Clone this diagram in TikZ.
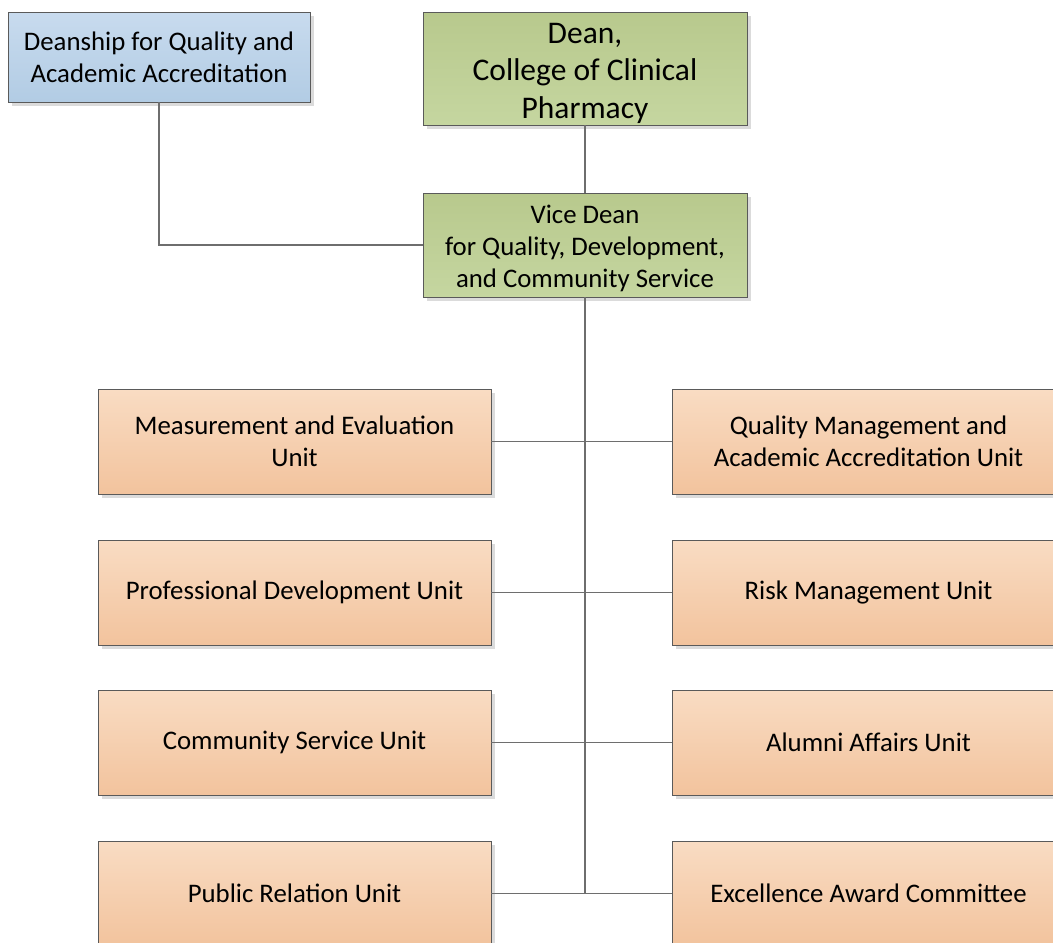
\documentclass[tikz,border=0pt]{standalone}
\usepackage{fontspec}
\setmainfont{Carlito}
\usetikzlibrary{shadows}
\definecolor{ortop}{HTML}{F9DCC3}
\definecolor{orbot}{HTML}{F2C39D}
\definecolor{grtop}{HTML}{B8C98D}
\definecolor{grbot}{HTML}{C5D6A0}
\definecolor{bltop}{HTML}{C8DBEE}
\definecolor{blbot}{HTML}{B2CCE4}
\definecolor{edge}{HTML}{5A5A5A}
\definecolor{conn}{HTML}{6E6E6E}
\tikzset{
  box/.style={draw=edge, line width=0.9pt, align=center, inner sep=0pt,
    font=\fontsize{26.8}{32}\selectfont,
    drop shadow={shadow xshift=4pt, shadow yshift=-4pt, fill=black!14, opacity=1}},
  unitbox/.style={box, minimum width=393pt, minimum height=105pt, top color=ortop, bottom color=orbot},
  greenbox/.style={box, minimum width=324pt, top color=grtop, bottom color=grbot},
  bluebox/.style={box, minimum width=302pt, minimum height=90pt, top color=bltop, bottom color=blbot},
  link/.style={draw=conn, line width=1.1pt},
}
\begin{document}
\begin{tikzpicture}[x=1pt,y=-1pt]
\useasboundingbox (0,0) rectangle (1053,943);
\clip (0,0) rectangle (1053,943);
\fill[white] (0,0) rectangle (1053,943);
\node[bluebox] (dq) at (159,57) {Deanship for Quality and\\Academic Accreditation};
\node[greenbox, minimum height=113pt, font=\fontsize{31.5}{37.5}\selectfont] (dean) at (585,68.5) {\rule{0pt}{30pt}Dean,\\College of Clinical\\Pharmacy};
\node[greenbox, minimum height=104pt] (vd) at (585,245) {\rule{0pt}{25pt}Vice Dean\\for Quality, Development,\\and Community Service};
\node[unitbox] (l1) at (294.5,441.5) {Measurement and Evaluation\\Unit};
\node[unitbox] (l2) at (294.5,592.5) {Professional Development Unit};
\node[unitbox] (l3) at (294.5,742.5) {Community Service Unit};
\node[unitbox] (l4) at (294.5,893.5) {Public Relation Unit};
\node[unitbox] (r1) at (868.5,441.5) {Quality Management and\\Academic Accreditation Unit};
\node[unitbox] (r2) at (868.5,592.5) {Risk Management Unit};
\node[unitbox] (r3) at (868.5,742.5) {Alumni Affairs Unit};
\node[unitbox] (r4) at (868.5,893.5) {Excellence Award Committee};
\coordinate (tend) at (vd.south |- l4.east);
\draw[link] (dq.south) |- (vd.west);
\draw[link] (dean.south) -- (vd.north);
\draw[link] (vd.south) -- (tend);
\draw[link] (l1.east) -- (r1.west);
\draw[link] (l2.east) -- (r2.west);
\draw[link] (l3.east) -- (r3.west);
\draw[link] (l4.east) -- (r4.west);
\end{tikzpicture}
\end{document}
